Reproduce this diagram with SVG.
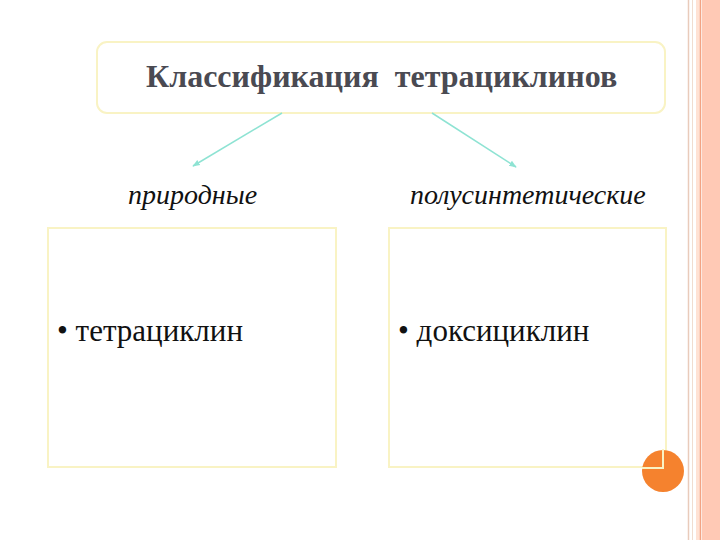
<svg xmlns="http://www.w3.org/2000/svg" width="720" height="540" viewBox="0 0 720 540">
<defs>
<style>
.box{fill:#fff;stroke:#F9F3C4;stroke-width:2}
.conn{stroke:#8EE3D3;stroke-width:1.5;fill:none}
.serif{font-family:"Times New Roman","Liberation Serif",Tinos,"Noto Serif","DejaVu Serif",serif}
.lbl{font-style:italic;font-size:28px;fill:#111}
.item{font-size:31px;fill:#111}
</style>
<marker id="ah" viewBox="0 0 10 10" refX="9" refY="5" markerWidth="5" markerHeight="5" orient="auto"><path d="M0,1 L10,5 L0,9 z" fill="#8EE3D3"/></marker>
</defs>
<rect width="720" height="540" fill="#fff"/>
<g id="border">
<rect x="702" y="0" width="18" height="540" fill="#FFC9B5"/>
<line x1="688.5" y1="0" x2="688.5" y2="540" stroke="#E9CBBB" stroke-width="1.5"/>
<line x1="692.5" y1="0" x2="692.5" y2="540" stroke="#F0DDD0" stroke-width="1"/>
<rect x="696" y="0" width="4" height="540" fill="#FFE2D4"/>
<line x1="700.5" y1="0" x2="700.5" y2="540" stroke="#F2A384" stroke-width="1.5"/>
</g>
<g id="title">
<rect class="box" x="97" y="42" width="568" height="71" rx="10"/>
<text class="serif" x="146" y="87" font-weight="bold" font-size="32" fill="#4A4A52" xml:space="preserve">Классификация  тетрациклинов</text>
</g>
<g id="connectors">
<line class="conn" x1="282" y1="113" x2="193" y2="166" marker-end="url(#ah)"/>
<line class="conn" x1="432" y1="113" x2="516" y2="167" marker-end="url(#ah)"/>
</g>
<g id="natural-label"><text class="serif lbl" x="128" y="204">природные</text></g>
<g id="semi-label"><text class="serif lbl" x="410" y="204">полусинтетические</text></g>
<g id="natural-box">
<rect class="box" x="48" y="228" width="288" height="239"/>
<text class="serif item" x="57" y="341">• тетрациклин</text>
</g>
<g id="semi-box">
<rect class="box" x="389" y="228" width="277" height="239"/>
<text class="serif item" x="398" y="341">• доксициклин</text>
</g>
<circle cx="663" cy="471" r="21" fill="#F5822E"/>
<path d="M642,468 H663 V449" stroke="#F9F3C4" stroke-width="2" fill="none"/>
</svg>
